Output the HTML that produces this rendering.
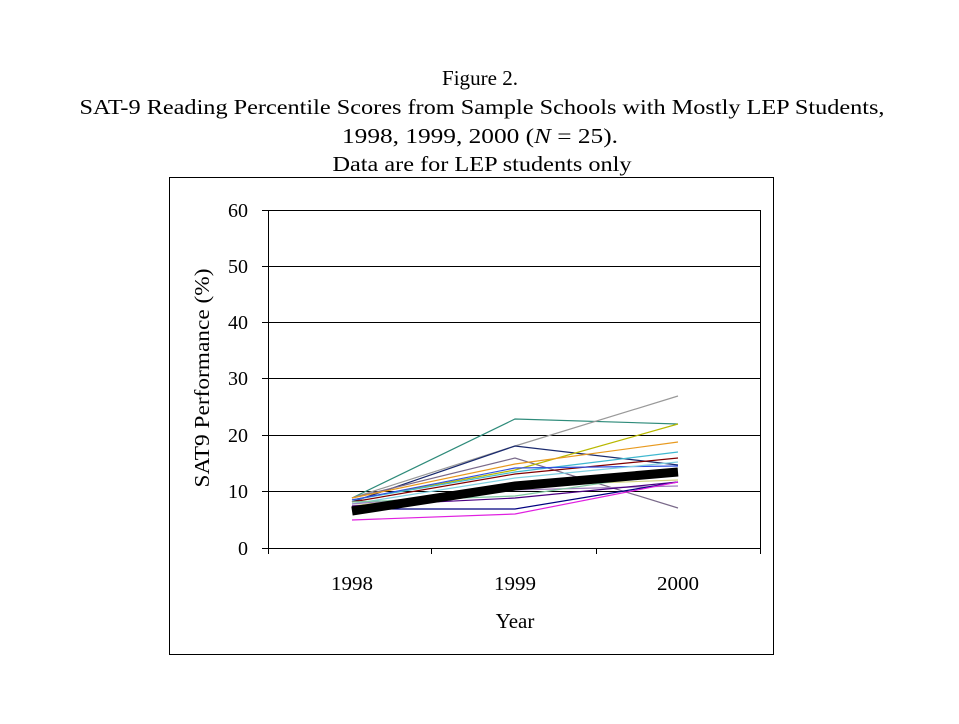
<!DOCTYPE html>
<html><head><style>
body{margin:0;background:#fff;}
</style></head><body>
<svg width="959" height="719" xmlns="http://www.w3.org/2000/svg" font-family="Liberation Serif, serif">
<rect width="959" height="719" fill="#fff"/>
<g font-size="21" text-anchor="middle" fill="#000">
<text x="480" y="85" textLength="76" lengthAdjust="spacingAndGlyphs">Figure 2.</text>
<text x="482" y="114" textLength="805" lengthAdjust="spacingAndGlyphs">SAT-9 Reading Percentile Scores from Sample Schools with Mostly LEP Students,</text>
<text x="480" y="143" textLength="276" lengthAdjust="spacingAndGlyphs">1998, 1999, 2000 (<tspan font-style="italic">N</tspan> = 25).</text>
<text x="482" y="171" textLength="299" lengthAdjust="spacingAndGlyphs">Data are for LEP students only</text>
</g>
<rect x="169.5" y="177.5" width="604" height="477" fill="none" stroke="#000" stroke-width="1"/>
<g stroke="#000" stroke-width="1">
<line x1="268" y1="210.5" x2="760" y2="210.5"/>
<line x1="268" y1="266.5" x2="760" y2="266.5"/>
<line x1="268" y1="322.5" x2="760" y2="322.5"/>
<line x1="268" y1="378.5" x2="760" y2="378.5"/>
<line x1="268" y1="435.5" x2="760" y2="435.5"/>
<line x1="268" y1="491.5" x2="760" y2="491.5"/>
<line x1="268" y1="548.5" x2="760" y2="548.5"/>
<line x1="268.5" y1="210" x2="268.5" y2="548"/>
<line x1="760.5" y1="210" x2="760.5" y2="554"/>
<line x1="431.5" y1="548" x2="431.5" y2="554"/>
<line x1="596.5" y1="548" x2="596.5" y2="554"/>
<line x1="268.5" y1="548" x2="268.5" y2="554"/>
<line x1="262" y1="210.5" x2="268" y2="210.5"/>
<line x1="262" y1="266.5" x2="268" y2="266.5"/>
<line x1="262" y1="322.5" x2="268" y2="322.5"/>
<line x1="262" y1="378.5" x2="268" y2="378.5"/>
<line x1="262" y1="435.5" x2="268" y2="435.5"/>
<line x1="262" y1="491.5" x2="268" y2="491.5"/>
<line x1="262" y1="548.5" x2="268" y2="548.5"/>
</g>
<g font-size="20" text-anchor="end">
<text x="248" y="217">60</text><text x="248" y="273">50</text><text x="248" y="329">40</text>
<text x="248" y="385">30</text><text x="248" y="442">20</text><text x="248" y="498">10</text><text x="248" y="555">0</text>
</g>
<g font-size="20" text-anchor="middle">
<text x="352" y="590" textLength="42" lengthAdjust="spacingAndGlyphs">1998</text><text x="515" y="590" textLength="42" lengthAdjust="spacingAndGlyphs">1999</text><text x="678" y="590" textLength="42" lengthAdjust="spacingAndGlyphs">2000</text>
<text x="515" y="628" font-size="21">Year</text>
<text transform="translate(209,378) rotate(-90)" font-size="21" textLength="219" lengthAdjust="spacingAndGlyphs">SAT9 Performance (%)</text>
</g>
<g fill="none" stroke-width="1.2">
<polyline stroke="#2e8b7a" points="352,498 515,419 678,424"/>
<polyline stroke="#999" points="352,498 515,446 678,396"/>
<polyline stroke="#1a2a6e" points="352,502 515,446 678,465"/>
<polyline stroke="#7a6a8a" points="352,498 515,458 678,508"/>
<polyline stroke="#b8b800" points="352,500 515,470 678,424"/>
<polyline stroke="#e89a20" points="352,498 515,464 678,442"/>
<polyline stroke="#40b8d0" points="352,500 515,472 678,452"/>
<polyline stroke="#800000" points="352,502 515,474 678,458"/>
<polyline stroke="#3050e0" points="352,500 515,468 678,466"/>
<polyline stroke="#80d0e0" points="352,504 515,478 678,462"/>
<polyline stroke="#d0d080" points="352,506 515,486 678,480"/>
<polyline stroke="#a080c0" points="352,504 515,490 678,486"/>
<polyline stroke="#80c8a0" points="352,502 515,496 678,472"/>
<polyline stroke="#4b0082" points="352,506 515,498 678,482"/>
<polyline stroke="#000080" points="352,509 515,509 678,482"/>
<polyline stroke="#e020e0" points="352,520 515,514 678,482"/>
<polyline stroke="#000" stroke-width="9" points="352,511 515,486 678,472"/>
</g>
</svg>
</body></html>
